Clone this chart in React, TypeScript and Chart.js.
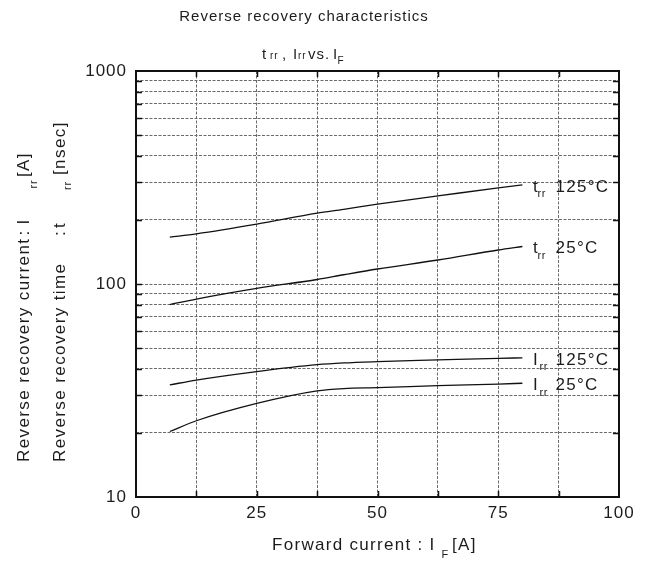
import React, { useEffect, useRef } from "react";
import { Chart, registerables } from "chart.js";

Chart.register(...registerables);

const FONT = '"Liberation Sans", Arial, Helvetica, sans-serif';
const INK = "#1c1c1c";

// Forward current I_F [A] at which the curves are sampled
const forwardCurrent = [7, 12.5, 25, 37.5, 43, 50, 62.5, 75, 80];
// Reverse recovery time t_rr [nsec]
const trr125 = [166, 172, 191, 215, 224, 237, 259, 283, 292];
const trr25 = [80, 85, 95.4, 105, 110.5, 117.6, 129.6, 144.4, 150];
// Reverse recovery current I_rr [A]
const irr125 = [33.6, 35.4, 38.8, 41.8, 42.6, 43.2, 44.0, 44.8, 45];
const irr25 = [20.3, 22.8, 27.5, 31.5, 32.3, 32.6, 33.3, 33.9, 34.2];

const xTicks = [0, 12.5, 25, 37.5, 50, 62.5, 75, 87.5, 100];
const xTickLabels = ["0", "", "25", "", "50", "", "75", "", "100"];
const yTicks = [
  10, 20, 30, 40, 50, 60, 70, 80, 90,
  100, 200, 300, 400, 500, 600, 700, 800, 900, 1000,
];
const yTickLabels: Record<number, string> = { 10: "10", 100: "100", 1000: "1000" };

const seriesNames = [
  { main: "t", sub: "rr", temp: "125°C" },
  { main: "t", sub: "rr", temp: "25°C" },
  { main: "I", sub: "rr", temp: "125°C" },
  { main: "I", sub: "rr", temp: "25°C" },
];
const seriesValues = [trr125, trr25, irr125, irr25];

const titleText = "Reverse recovery characteristics";

function setFont(ctx: CanvasRenderingContext2D, size: number, spacing: number) {
  ctx.font = `${size}px ${FONT}`;
  (ctx as any).letterSpacing = `${spacing}px`;
}

function text(
  ctx: CanvasRenderingContext2D,
  s: string,
  x: number,
  y: number,
  size: number,
  spacing = 1,
  align: CanvasTextAlign = "left"
) {
  setFont(ctx, size, spacing);
  ctx.textAlign = align;
  ctx.textBaseline = "alphabetic";
  ctx.fillText(s, x, y);
}

function vtext(
  ctx: CanvasRenderingContext2D,
  s: string,
  x: number,
  y: number,
  size: number,
  spacing = 1.4
) {
  ctx.save();
  ctx.translate(x, y);
  ctx.rotate(-Math.PI / 2);
  text(ctx, s, 0, 0, size, spacing);
  ctx.restore();
}

const annotations = {
  id: "annotations",
  beforeDraw(chart: any) {
    (chart.ctx as any).letterSpacing = "1px";
  },
  afterDraw(chart: any) {
    const ctx: CanvasRenderingContext2D = chart.ctx;
    const { left, right, top, bottom } = chart.chartArea;
    const xs = chart.scales.x;
    const ys = chart.scales.y;
    ctx.save();

    // inward tick marks on all four sides
    ctx.strokeStyle = "#111";
    ctx.lineWidth = 1.5;
    ctx.setLineDash([]);
    const tl = 6;
    for (const v of yTicks) {
      if (v === 10 || v === 1000) continue;
      const py = Math.round(ys.getPixelForValue(v)) + 0.5;
      ctx.beginPath();
      ctx.moveTo(left, py);
      ctx.lineTo(left + tl, py);
      ctx.moveTo(right, py);
      ctx.lineTo(right - tl, py);
      ctx.stroke();
    }
    for (const v of xTicks) {
      if (v === 0 || v === 100) continue;
      const px = Math.round(xs.getPixelForValue(v)) + 0.5;
      ctx.beginPath();
      ctx.moveTo(px, top);
      ctx.lineTo(px, top + tl);
      ctx.moveTo(px, bottom);
      ctx.lineTo(px, bottom - tl);
      ctx.stroke();
    }

    // frame
    ctx.lineWidth = 2;
    ctx.strokeStyle = "#111";
    ctx.strokeRect(left, top, right - left, bottom - top);

    ctx.fillStyle = INK;

    // titles
    text(ctx, titleText, 304, 21, 15, 1, "center");
    text(ctx, "t", 262, 58.5, 15, 1);
    text(ctx, "rr", 270, 58.5, 10, 0.8);
    text(ctx, ",", 282, 58.5, 15, 1);
    text(ctx, "I", 293, 58.5, 15, 1);
    text(ctx, "rr", 298, 58.5, 10, 0.8);
    text(ctx, "vs.", 308, 58.5, 15, 1);
    text(ctx, "I", 333, 58.5, 15, 1);
    text(ctx, "F", 337.5, 63.5, 10, 0.8);

    // x-axis title
    text(ctx, "Forward current : I", 272, 550, 17, 1.3);
    text(ctx, "F", 441.5, 558, 11, 0.8);
    text(ctx, "[A]", 452, 550, 17, 1.3);

    // y-axis titles (two stacked, rotated)
    vtext(ctx, "Reverse recovery current", 29, 462, 17);
    vtext(ctx, ":", 29, 235.5, 17);
    vtext(ctx, "I", 29, 224.5, 17);
    vtext(ctx, "rr", 37, 188.5, 11, 0.8);
    vtext(ctx, "[A]", 29, 177, 17);

    vtext(ctx, "Reverse recovery time", 65, 462, 17);
    vtext(ctx, ":", 65, 236, 17);
    vtext(ctx, "t", 65, 228, 17);
    vtext(ctx, "rr", 71, 190, 11, 0.8);
    vtext(ctx, "[nsec]", 65, 175, 17);

    // curve labels next to the last sample of each series
    seriesNames.forEach((n, i) => {
      const vals = seriesValues[i];
      const lastX = forwardCurrent[forwardCurrent.length - 1];
      const lastY = vals[vals.length - 1];
      const px = xs.getPixelForValue(lastX) + 10.5;
      const py = ys.getPixelForValue(lastY) + 7;
      text(ctx, n.main, px, py, 17, 1);
      text(ctx, n.sub, px + (n.main === "I" ? 6.5 : 4.5), py + 5.5, 11, 0.8);
      text(ctx, n.temp, px + 22.5, py, 17, 1.3);
    });

    ctx.restore();
  },
};

export default function App() {
  const canvasRef = useRef<HTMLCanvasElement | null>(null);

  useEffect(() => {
    const canvas = canvasRef.current;
    if (!canvas) return;

    const lineStyle = {
      borderColor: "#111",
      borderWidth: 1.3,
      pointRadius: 0,
      fill: false,
      cubicInterpolationMode: "monotone" as const,
    };

    const chart = new Chart(canvas, {
      type: "line",
      data: {
        datasets: seriesValues.map((vals, i) => ({
          label: `${seriesNames[i].main}${seriesNames[i].sub} ${seriesNames[i].temp}`,
          data: forwardCurrent.map((x, j) => ({ x, y: vals[j] })),
          ...lineStyle,
        })),
      },
      options: {
        animation: false,
        responsive: false,
        devicePixelRatio: 1,
        layout: { padding: { top: 71, right: 27, bottom: 0, left: 0 } },
        plugins: {
          legend: { display: false },
          title: { display: false },
          tooltip: { enabled: false },
        },
        scales: {
          x: {
            type: "linear",
            min: 0,
            max: 100,
            afterBuildTicks: (scale: any) => {
              scale.ticks = xTicks.map((value) => ({ value }));
            },
            afterFit: (scale: any) => {
              scale.height = 64;
            },
            ticks: {
              autoSkip: false,
              maxRotation: 0,
              padding: 6,
              color: INK,
              font: { family: FONT, size: 17 },
              callback: (v: any) => xTickLabels[xTicks.indexOf(Number(v))] ?? "",
            },
            grid: { color: "#6a6a6a", lineWidth: 1, drawTicks: false },
            border: { display: false, dash: [3, 1.5] },
          },
          y: {
            type: "logarithmic",
            min: 10,
            max: 1000,
            afterBuildTicks: (scale: any) => {
              scale.ticks = yTicks.map((value) => ({ value }));
            },
            afterFit: (scale: any) => {
              scale.width = 136;
            },
            ticks: {
              autoSkip: false,
              padding: 9,
              color: INK,
              font: { family: FONT, size: 17 },
              callback: (v: any) => yTickLabels[Number(v)] ?? "",
            },
            grid: { color: "#6a6a6a", lineWidth: 1, drawTicks: false },
            border: { display: false, dash: [3, 1.5] },
          },
        },
      },
      plugins: [annotations],
    });

    return () => chart.destroy();
  }, []);

  return (
    <div style={{ position: "fixed", left: 0, top: 0, width: 646, height: 561, background: "#fff" }}>
      <canvas ref={canvasRef} width={646} height={561} style={{ display: "block" }} />
    </div>
  );
}
